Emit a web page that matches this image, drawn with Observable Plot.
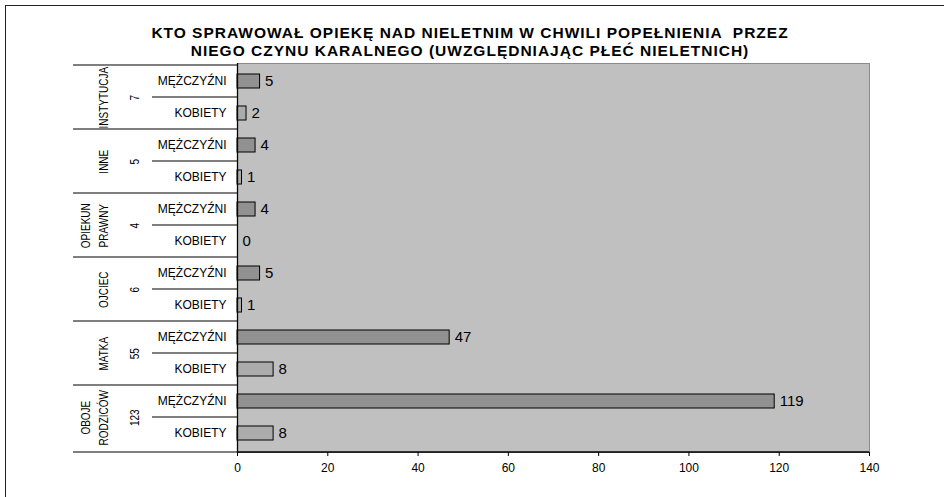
<!DOCTYPE html>
<html><head><meta charset="utf-8">
<script src="https://cdn.jsdelivr.net/npm/d3@7"></script>
<script src="https://cdn.jsdelivr.net/npm/@observablehq/plot@0.6"></script>
<style>
body{margin:0;background:#fff;font-family:"Liberation Sans",Arial,sans-serif;}
#wrap{position:relative;width:944px;height:497px;overflow:hidden;}
#frame{position:absolute;left:5px;top:5px;width:960px;height:520px;border-left:1.5px solid #222;border-top:1.5px solid #222;pointer-events:none;}
#title{height:58px;box-sizing:border-box;padding-top:24px;padding-right:4px;text-align:center;font-weight:bold;font-size:15.5px;letter-spacing:1px;line-height:17.5px;color:#000;white-space:pre;}
#chart svg{display:block;}
</style></head><body>
<div id="wrap"><div id="frame"></div><div id="title">KTO SPRAWOWAŁ OPIEKĘ NAD NIELETNIM W CHWILI POPEŁNIENIA  PRZEZ
NIEGO CZYNU KARALNEGO (UWZGLĘDNIAJĄC PŁEĆ NIELETNICH)</div><div id="chart"></div></div>
<script>
const groups = ["INSTYTUCJA","INNE","OPIEKUN\nPRAWNY","OJCIEC","MATKA","OBOJE\nRODZICÓW"];
const totals = [7,5,4,6,55,123];
const sexes = ["MĘŻCZYŹNI","KOBIETY"];
const men = [5,4,4,5,47,119];
const women = [2,1,0,1,8,8];
const xTicks = [0,20,40,60,80,100,120,140];
const sexColors = {"MĘŻCZYŹNI":"#919191","KOBIETY":"#ababab"};

const rows = groups.flatMap((g,i)=>[
  {group:g, gi:i, sex:sexes[0], value:men[i], key:i+"|"+sexes[0]},
  {group:g, gi:i, sex:sexes[1], value:women[i], key:i+"|"+sexes[1]}
]);
const groupRows = groups.map((g,i)=>({group:g, total:totals[i], key:i+"|"+sexes[0]}));

const W = 944, H = 439, mT = 5, mB = 45, mL = 237, mR = 75;
const step = (H - mT - mB) / rows.length;

const plot = Plot.plot({
  width: W, height: H,
  marginTop: mT, marginBottom: mB, marginLeft: mL, marginRight: mR,
  style: {fontFamily: "Liberation Sans, Arial, sans-serif", background: "transparent", overflow: "visible", color: "#000"},
  x: {domain: [0, 140], label: null},
  y: {domain: rows.map(d=>d.key), paddingInner: 0.56, paddingOuter: 0.28, axis: null},
  marks: [
    Plot.frame({fill: "#c0c0c0", stroke: "#8a8a8a"}),
    Plot.barX(rows.filter(d=>d.value>0), {x: "value", y: "key", fill: d=>sexColors[d.sex], stroke: "#000", strokeWidth: 1}),
    Plot.text(rows, {x: "value", y: "key", text: d=>String(d.value), dx: 5, textAnchor: "start", fontSize: 15}),
    Plot.text(rows, {y: "key", text: "sex", frameAnchor: "left", dx: -11, textAnchor: "end", fontSize: 12, style: {letterSpacing: "0.9px"}}),
    Plot.text(groupRows, {y: "key", text: "group", frameAnchor: "left", textAnchor: "middle", dx: -129.5, dy: step/2, rotate: -90, lineAnchor: "bottom", lineHeight: 1.3, fontSize: 13.5, className: "condensed"}),
    Plot.text(groupRows, {y: "key", text: d=>String(d.total), frameAnchor: "left", textAnchor: "middle", dx: -103, dy: step/2, rotate: -90, lineAnchor: "middle", fontSize: 13.5, className: "condensed"}),
    Plot.ruleX([0], {stroke: "#000", strokeWidth: 1.3}),
    Plot.axisX(xTicks, {anchor: "bottom", tickSize: 4, tickPadding: 7, fontSize: 12, stroke: "#000", label: null})
  ]
});

const svg = d3.select(plot);
// condense the rotated group labels along their reading direction
svg.selectAll("g.condensed text").each(function() {
  const t = this.getAttribute("transform") || "";
  this.setAttribute("transform", t + " scale(0.74,1)");
});
// table lines and bottom axis line, positioned with the plot's y scale
const ys = plot.scale("y");
const g = svg.append("g").attr("stroke", "#000").attr("stroke-width", 1.2);
const rowTop = k => ys.apply(k) - (ys.step - ys.bandwidth) / 2;
groups.forEach((gname, i) => {
  const t = rowTop(i+"|"+sexes[0]);
  g.append("line").attr("x1", 73).attr("x2", mL).attr("y1", t).attr("y2", t);
  const m = rowTop(i+"|"+sexes[1]);
  g.append("line").attr("x1", 152).attr("x2", mL).attr("y1", m).attr("y2", m);
});
const yb = H - mB;
g.append("line").attr("x1", 73).attr("x2", mL).attr("y1", yb).attr("y2", yb);
g.append("line").attr("x1", mL).attr("x2", W - mR).attr("y1", yb).attr("y2", yb).attr("stroke-width", 1.5);

document.getElementById("chart").appendChild(plot);
</script>
</body></html>
